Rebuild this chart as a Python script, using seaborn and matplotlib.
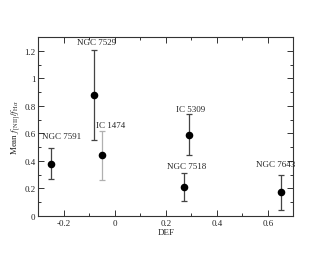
import numpy as np
import pandas as pd
import seaborn as sns
import matplotlib.pyplot as plt
from matplotlib.ticker import MultipleLocator, FuncFormatter

names = ["NGC 7591", "NGC 7529", "IC 1474", "IC 5309", "NGC 7518", "NGC 7643"]
defs = [-0.25, -0.08, -0.05, 0.29, 0.27, 0.65]
means = [0.38, 0.88, 0.44, 0.59, 0.21, 0.17]
lows = [0.27, 0.55, 0.26, 0.44, 0.11, 0.04]
highs = [0.49, 1.21, 0.62, 0.74, 0.31, 0.30]
bar_colors = ["#444444", "#444444", "#b0b0b0", "#444444", "#444444", "#444444"]
# label anchor (centre x, bottom y) in data units
label_x = [-0.207, -0.07, -0.015, 0.297, 0.28, 0.63]
label_y = [0.55, 1.235, 0.635, 0.745, 0.33, 0.35]


def fmt(v, pos):
    s = "%.1f" % v
    if s.endswith(".0"):
        s = s[:-2]
    if s == "-0":
        s = "0"
    return s


def main():
    sns.set_style("ticks")
    plt.rcParams['font.family'] = ['Liberation Serif', 'DejaVu Serif']
    plt.rcParams['mathtext.fontset'] = 'stix'
    df = pd.DataFrame({"DEF": defs, "mean": means, "name": names})

    fig = plt.figure(figsize=(3.3, 2.55), dpi=100)
    ax = fig.add_axes([0.116, 0.150, 0.773, 0.700])

    for x, y, lo, hi, c in zip(defs, means, lows, highs, bar_colors):
        ax.errorbar(x, y, yerr=[[y - lo], [hi - y]], fmt="none", ecolor=c,
                    elinewidth=0.9, capsize=2.5, capthick=0.9, zorder=2)
    sns.scatterplot(data=df, x="DEF", y="mean", color="black", s=30,
                    edgecolor="black", linewidth=0, zorder=3, ax=ax, legend=False)

    for n, lx, ly in zip(names, label_x, label_y):
        ax.text(lx, ly, n, ha="center", va="bottom", fontsize=6.5)

    ax.set_xlim(-0.3, 0.7)
    ax.set_ylim(0, 1.3)
    ax.xaxis.set_major_locator(MultipleLocator(0.2))
    ax.xaxis.set_minor_locator(MultipleLocator(0.1))
    ax.yaxis.set_major_locator(MultipleLocator(0.2))
    ax.yaxis.set_minor_locator(MultipleLocator(0.1))
    ax.xaxis.set_major_formatter(FuncFormatter(fmt))
    ax.yaxis.set_major_formatter(FuncFormatter(fmt))
    ax.tick_params(which="both", direction="in", top=True, right=True,
                   labelsize=6.5, width=0.7, color="#333333", pad=2)
    ax.tick_params(which="major", length=4)
    ax.tick_params(which="minor", length=2)
    for sp in ax.spines.values():
        sp.set_linewidth(0.8)
        sp.set_color("#333333")

    ax.set_xlabel("DEF", fontsize=6.5, labelpad=1)
    ax.set_ylabel(r"Mean $f_{[\mathrm{N\,II}]}/f_{\mathrm{H}\,\alpha}$", fontsize=6.5)
    ax.yaxis.set_label_coords(-0.06, 0.5)

    fig.savefig("out.png", dpi=100)


if __name__ == '__main__':
    main()
